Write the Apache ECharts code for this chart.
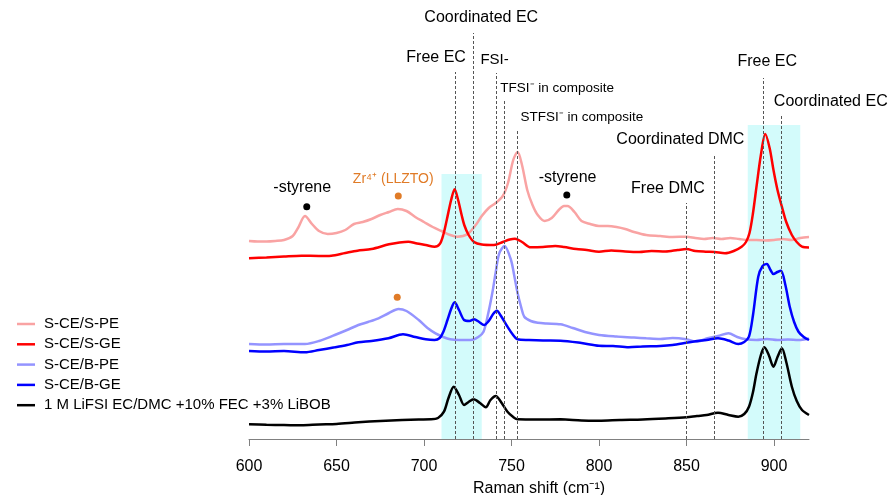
<!DOCTYPE html>
<html>
<head>
<meta charset="utf-8">
<script src="https://cdn.jsdelivr.net/npm/echarts@6/dist/echarts.min.js"></script>
<style>
  html, body { margin: 0; padding: 0; background: #fff; }
  #chart { width: 896px; height: 495px; }
</style>
</head>
<body>
<div id="chart"></div>
<script>
// Raman spectra, offset stacked (arbitrary intensity units)
const xTicks = [600, 650, 700, 750, 800, 850, 900];

const sPE = [
  [600,198],[605,197.5],[610,197.5],[615,198],[620,199],[625,203],[628,211],[632,223],[636,215],[640,208],
  [645,205],[650,206],[655,209],[660,215],[665,217],[670,220],[675,224],[680,227],[685,230],[690,228],
  [695,222],[700,217],[705,212],[710,208],[715,204],[719,202.3],[725,205],[730,215],[733,223],[737,231],
  [741,236],[745,243],[748,256],[751,279],[753.5,287],[756,274],[759,249],[762,234],[765,224],[769,218],
  [773,221],[777,229],[780,233],[782,233],[786,227],[790,218],[795,215],[800,213],[805,213],[810,212],
  [815,210],[820,207],[827,204],[835,203],[842,202],[850,202.3],[855,201],[860,200],[865,201],[870,200],
  [875,201],[880,200],[885,199],[890,199],[895,198.5],[900,199],[905,200],[910,199],[915,201],[920,202]
];

const sGE = [
  [600,180.7],[610,181.5],[620,182.5],[630,183.3],[640,183],[647,183.3],[655,186],[662,188.3],[670,190],
  [680,194.7],[686,196.5],[691,197.3],[696,195.5],[701,194],[706,192.3],[709,195],[711,204],[713,219],
  [715.5,239],[717.5,249.7],[719.5,239],[721.5,224],[723,214],[725.5,204],[728.6,197],[733,194.5],[740,194],
  [745,197],[749,199.5],[752,200.3],[756,197],[761,191.7],[768,192],[775,193],[780,192],[787,190],[793,189],
  [800,187.3],[807,188.5],[815,187.5],[823,187],[830,188],[838,187.5],[845,189],[850,190],[855,188],
  [861,187.3],[866,187],[872,185.7],[877,188],[881.5,192.3],[884,197],[886,206],[888,226],[890,252.3],
  [892.5,284],[895,305],[897.5,291],[899.7,269],[902,249],[904.5,232.3],[907,217],[910.2,204],[913,197],
  [916,192.3],[920,191.5]
];

const bPE = [
  [600,95],[610,94.5],[620,95],[632,95],[640,98],[649,104],[656,109],[662.5,114],[668,117],[674,120.7],
  [680,126],[685.4,130],[690,128],[697,119],[702,111],[706.6,105.7],[711,102],[715,99.7],[720,99],[726.7,99],
  [731,102],[734,107.3],[736.5,124],[739,145.7],[741,167],[743,185.7],[746,193],[749.7,179],[751.5,164],
  [753.5,145.7],[755.5,132],[757.3,122.3],[761,118],[765,116.3],[770,115.5],[778,114.7],[785,111],[792,107],
  [800,104],[810,102.5],[820,101.5],[827,100.7],[835,100],[842,101],[850,99.7],[855.7,97.3],[862,100.7],
  [868,103],[874,105.7],[879,102],[884,99.7],[890,99],[896,100],[902,99],[908,99.5],[914,99],[920,100.5]
];

const bGE = [
  [600,88],[610,87.5],[620,88],[632,86.7],[640,89],[649,91.7],[656,94],[662.5,96.7],[670,98],[679.7,100.7],
  [688,104.7],[695,102],[701,99.7],[706,99],[709,101],[711,107],[713.4,119],[715.5,130],[717.5,136.7],
  [720,129],[722.9,119],[726,118],[728.6,119.7],[731.5,117],[734.3,114],[737,118],[739.5,125],[741.6,128.3],
  [744,123],[747.7,112.3],[750.5,105],[753.5,99.7],[760,99],[768,98.5],[778,98.3],[790,96],[800,93.3],
  [808,93],[817,91.7],[825,92.5],[835,93],[842,94],[850,96.3],[856,98],[861.5,99],[868,100.7],[874,98.5],
  [879.6,95],[883,97],[885.7,102.3],[888,124],[891,162.3],[893.5,173],[895.9,175],[898,169],[899.7,165],
  [902,167],[904,168.3],[906.5,154],[909,132.3],[911.5,117],[914,107.3],[917,102],[920,99]
];

const liquid = [
  [600,14.7],[610,14.2],[620,14],[630,13.7],[640,14.5],[650,15],[662.5,16.7],[675,18],[687.5,19],[697,19.5],
  [704,19.7],[708,21],[711.4,27.3],[714,41],[717,52.3],[720,44],[722.9,34],[725.5,37],[728.3,39.7],[732,36],
  [735.3,31.7],[738,39],[741,43],[744,37],[747.7,27.3],[751,22],[753.5,19.7],[765,19.5],[778,19.7],[790,18.5],
  [800,18.3],[812,19],[825,19.5],[838,20.5],[850,21.7],[856,23],[861.5,24],[868,26.3],[874,24],[879.6,22.3],
  [883,25],[885.7,32.3],[888,47],[890,65.7],[892.5,84],[894.5,91.7],[897,84],[899.7,72.3],[902,82],
  [904.5,90.7],[907,77],[910.2,52.3],[913,38],[916,29],[920,24]
];

// assignment lines: [position, top of line]
const peakLines = [[718,367],[728,406],[741,366],[746,339],[753,308],[850,236],[866,284],[894,361],[904,324]];
// shaded bands: [from, to, top]
const bands = [[710,733,265],[885,915,314]];
// marker dots: [x, y, color]
const dots = [[633,232.3,'#000'],[685.3,243,'#e07b27'],[684.7,141.7,'#e07b27'],[781.6,244,'#000']];
// text labels: [x, y, text, align, size, color]
const notes = [
  [733,421,'Coordinated EC','center',16,'#000'],
  [707.2,381,'Free EC','center',16,'#000'],
  [732.5,379,'FSI-','left',15,'#000'],
  [743.9,350,'TFSI\u207B in composite','left',13.5,'#000'],
  [755.4,321,'STFSI\u207B in composite','left',13.5,'#000'],
  [846.8,299,'Coordinated DMC','center',16,'#000'],
  [839.7,250,'Free DMC','center',16,'#000'],
  [896.4,376.5,'Free EC','center',16,'#000'],
  [900.2,337.3,'Coordinated EC','left',16,'#000'],
  [630.7,251,'-styrene','center',16,'#000'],
  [682.7,259,'Zr\u2074\u207A (LLZTO)','center',14,'#e07b27'],
  [782.3,261,'-styrene','center',16,'#000']
];

const names = ['S-CE/S-PE', 'S-CE/S-GE', 'S-CE/B-PE', 'S-CE/B-GE', '1 M LiFSI EC/DMC +10% FEC +3% LiBOB'];
const colors = ['#f9a3a3', '#ff0000', '#9494ff', '#0000ff', '#000000'];
const spectra = [sPE, sGE, bPE, bGE, liquid];

const FONT = '"Liberation Sans", Arial, sans-serif';
const chart = echarts.init(document.getElementById('chart'));

const option = {
  animation: false,
  textStyle: { fontFamily: FONT },
  grid: { left: 249, right: 87, top: 0, bottom: 56, outerBoundsMode: 'none' },
  legend: {
    data: names,
    orient: 'vertical',
    left: 12,
    top: 311,
    icon: 'rect',
    itemWidth: 18,
    itemHeight: 2.5,
    itemGap: 4.3,
    textStyle: { fontSize: 15, color: '#000', lineHeight: 16, padding: [0, 0, 0, 4], fontFamily: FONT }
  },
  xAxis: {
    type: 'value',
    min: 600,
    max: 920,
    interval: 50,
    name: 'Raman shift (cm\u207B\u00B9)',
    nameLocation: 'middle',
    nameGap: 42,
    nameTextStyle: { fontSize: 16, color: '#000', padding: [0, 0, 0, 20] },
    axisLine: { lineStyle: { color: '#808080', width: 1 } },
    axisTick: { length: 7, lineStyle: { color: '#808080' }, customValues: xTicks },
    axisLabel: { fontSize: 16, color: '#000', margin: 20, customValues: xTicks },
    splitLine: { show: false }
  },
  yAxis: { type: 'value', min: 0, max: 439, show: false },
  series: [
    {
      type: 'scatter',
      symbolSize: 1,
      itemStyle: { color: 'rgba(0,0,0,0)', opacity: 1 },
      silent: true,
      data: notes.map(n => ({
        value: [n[0], n[1]],
        label: {
          show: true,
          position: [0, 0],
          formatter: n[2],
          align: n[3],
          verticalAlign: 'middle',
          fontSize: n[4],
          color: n[5],
          opacity: 1,
          fontFamily: FONT
        }
      })),
      markArea: {
        silent: true,
        itemStyle: { color: '#d3fbfb', opacity: 1 },
        data: bands.map(b => [{ xAxis: b[0], yAxis: 0 }, { xAxis: b[1], yAxis: b[2] }])
      },
      markLine: {
        silent: true,
        symbol: 'none',
        label: { show: false },
        lineStyle: { color: '#555', type: [3, 2], width: 1, opacity: 1 },
        data: peakLines.map(p => [{ coord: [p[0], 0] }, { coord: [p[0], p[1]] }])
      }
    },
    ...spectra.map((d, i) => ({
      name: names[i],
      type: 'line',
      data: d,
      smooth: 0.3,
      symbol: 'none',
      lineStyle: { color: colors[i], width: 2.5 },
      itemStyle: { color: colors[i] }
    })),
    {
      type: 'scatter',
      symbolSize: 7,
      silent: true,
      itemStyle: { opacity: 1 },
      data: dots.map(p => ({ value: [p[0], p[1]], itemStyle: { color: p[2] } }))
    }
  ]
};

chart.setOption(option);
</script>
</body>
</html>
